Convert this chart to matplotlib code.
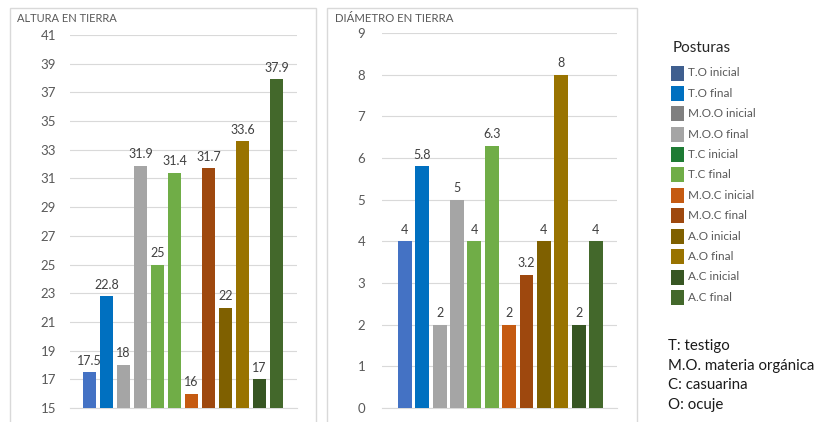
import matplotlib.pyplot as plt
from matplotlib.patches import Rectangle

plt.rcParams["font.family"] = ["Lato", "DejaVu Sans"]

series = ["T.O inicial", "T.O final", "M.O.O inicial", "M.O.O final",
          "T.C inicial", "T.C final", "M.O.C inicial", "M.O.C final",
          "A.O inicial", "A.O final", "A.C inicial", "A.C final"]
altura = [17.5, 22.8, 18, 31.9, 25, 31.4, 16, 31.7, 22, 33.6, 17, 37.9]
diametro = [4, 5.8, 2, 5, 4, 6.3, 2, 3.2, 4, 8, 2, 4]
altura_ticks = list(range(15, 42, 2))
diametro_ticks = list(range(0, 10))

bar_colors = ["#4472C4", "#0070C0", "#A5A5A5", "#A5A5A5",
              "#70AD47", "#70AD47", "#C55A11", "#9E480E",
              "#7F6000", "#997300", "#375623", "#43682B"]
legend_colors = ["#3F5F8F", "#0070C0", "#808080", "#A5A5A5",
                 "#1E7B34", "#70AD47", "#C55A11", "#9E480E",
                 "#7F6000", "#997300", "#375623", "#43682B"]
notes = ["T: testigo", "M.O. materia orgánica", "C: casuarina", "O: ocuje"]

W, H = 826, 422
fig = plt.figure(figsize=(W / 100, H / 100), dpi=100)


def fx(px):
    return px / W


def fy(py):
    return 1 - py / H


# panel borders
for x0, x1 in [(10, 316), (327, 637)]:
    fig.add_artist(Rectangle((fx(x0), fy(430)), fx(x1 - x0), fy(8) - fy(430),
                             transform=fig.transFigure, fill=False,
                             edgecolor="#D9D9D9", linewidth=1))


def panel(rect, values, ticks, xlim, width, pad, title, title_x, title_size):
    ax = fig.add_axes(rect)
    x = range(len(values))
    bars = ax.bar(x, values, width=width, color=bar_colors, zorder=3,
                  bottom=0)
    ax.set_ylim(ticks[0], ticks[-1])
    ax.set_xlim(*xlim)
    ax.set_yticks(ticks)
    ax.set_xticks([])
    ax.grid(axis="y", color="#D9D9D9", linewidth=0.8, zorder=0)
    for s in ax.spines.values():
        s.set_visible(False)
    ax.spines["bottom"].set_visible(True)
    ax.spines["bottom"].set_color("#D9D9D9")
    ax.tick_params(axis="y", length=0, pad=pad, labelsize=9.5,
                   labelcolor="#595959")
    ax.patch.set_alpha(0)
    for b, v in zip(bars, values):
        ax.annotate(f"{v:g}", (b.get_x() + b.get_width() / 2, v),
                    xytext=(0, 4), textcoords="offset points",
                    ha="center", va="bottom", fontsize=9, color="#404040")
    fig.text(fx(title_x), fy(19), title, fontsize=title_size, color="#595959",
             va="center", ha="left")
    return ax


panel([fx(70), fy(408), fx(227), fy(35) - fy(408)], altura, altura_ticks,
      (-1.15, 12.2), 0.76, 10, "ALTURA EN TIERRA", 17, 8)
panel([fx(382), fy(408), fx(235), fy(33) - fy(408)], diametro, diametro_ticks,
      (-1.32, 12.21), 0.8, 12, "DIÁMETRO EN TIERRA", 335, 8.2)

# legend
fig.text(fx(673), fy(48), "Posturas", fontsize=11, color="#262626",
         va="center", ha="left")
for i, (name, c) in enumerate(zip(series, legend_colors)):
    yc = 73 + i * 20.4
    fig.add_artist(Rectangle((fx(671), fy(yc + 7.5)), fx(13), fy(0) - fy(15),
                             transform=fig.transFigure, facecolor=c,
                             edgecolor="none"))
    fig.text(fx(688), fy(yc), name, fontsize=8.5, color="#595959",
             va="center", ha="left")

for i, t in enumerate(notes):
    fig.text(fx(668), fy(346 + i * 19.7), t, fontsize=10.8, color="#1A1A1A",
             va="center", ha="left")

fig.savefig("out.png", dpi=100)
